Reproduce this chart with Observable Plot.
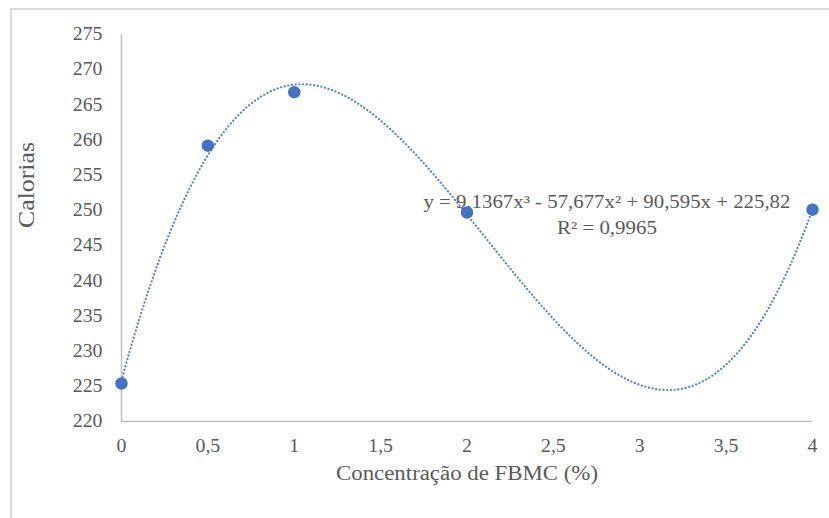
<!DOCTYPE html>
<html>
<head>
<meta charset="utf-8">
<script src="https://cdn.jsdelivr.net/npm/d3@7"></script>
<script src="https://cdn.jsdelivr.net/npm/@observablehq/plot@0.6"></script>
<style>
  html, body { margin: 0; padding: 0; background: #fff; }
  #wrap { position: relative; width: 829px; height: 518px; overflow: hidden; }
  #border { position: absolute; left: 10px; top: 8px; width: 840px; height: 540px;
            border-left: 2px solid #d9d9d9; border-top: 2px solid #d9d9d9; box-sizing: border-box; }
  #chart { position: absolute; left: 0; top: 0; }
  #chart svg, #chart svg text { font-family: "Liberation Serif", "Times New Roman", serif !important; }
</style>
</head>
<body>
<div id="wrap"><div id="border"></div><div id="chart"></div></div>
<script>
// ---- data ----
const concentracao = [0, 0.5, 1, 2, 4];
const calorias = [225.4, 259.2, 266.8, 249.7, 250.1];
// trendline coefficients as printed on the chart (c0 + c1 x + c2 x^2 + c3 x^3)
const trendCoef = [225.82, 90.595, -57.677, 9.1367];
const rSquared = "0,9965";
const xTicks = [0, 0.5, 1, 1.5, 2, 2.5, 3, 3.5, 4];
const yTicks = [220, 225, 230, 235, 240, 245, 250, 255, 260, 265, 270, 275];
const xTitle = "Concentração de FBMC (%)";
const yTitle = "Calorias";
const labelPos = [2.81, 249.7]; // annotation anchor, data units

const comma = d => String(d).replace(".", ",");
const points = concentracao.map((x, i) => ({x, y: calorias[i]}));
const poly = x => trendCoef.reduce((s, c, k) => s + c * x ** k, 0);
const curve = d3.range(0, 4.0001, 0.02).map(x => ({x, y: poly(x)}));
const eqText = `y = ${comma(trendCoef[3])}x³ - ${comma(-trendCoef[2])}x² + ${comma(trendCoef[1])}x + ${comma(trendCoef[0])}`;
const r2Text = `R² = ${rSquared}`;

const blue = "#4472C4";
const axisGray = "#bfbfbf";
const textGray = "#595959";
const serif = "'Liberation Serif', 'Times New Roman', serif";

const svg = Plot.plot({
  width: 829,
  height: 518,
  marginLeft: 121,
  marginRight: 17,
  marginTop: 34,
  marginBottom: 97,
  style: {fontFamily: serif, background: "transparent", color: textGray},
  x: {domain: [0, 4], ticks: xTicks, tickFormat: comma, tickSize: 0, tickPadding: 18, label: null},
  y: {domain: [220, 275], ticks: yTicks, tickSize: 0, tickPadding: 19, label: null},
  marks: [
    Plot.ruleY([220], {stroke: axisGray, strokeWidth: 1.5}),
    Plot.ruleX([0], {stroke: axisGray, strokeWidth: 1.5}),
    Plot.line(curve, {x: "x", y: "y", stroke: blue, strokeWidth: 2.2, strokeDasharray: "0.1 3.6",
      strokeLinecap: "round", strokeOpacity: 0.9, curve: "linear"}),
    Plot.text([eqText + "\n" + r2Text], {x: () => labelPos[0], y: () => labelPos[1],
      lineHeight: 1.45, fontSize: 18, fill: textGray, textAnchor: "middle", lineAnchor: "middle"}),
    Plot.dot(points, {x: "x", y: "y", r: 5.5, fill: blue, stroke: blue}),
    Plot.text([xTitle], {frameAnchor: "bottom", dy: 58, fontSize: 20, fill: textGray}),
    Plot.text([yTitle], {frameAnchor: "left", dx: -95, rotate: -90, fontSize: 24, fill: textGray})
  ]
});
svg.setAttribute("font-family", serif);
svg.querySelectorAll('[aria-label^="x-axis tick label"], [aria-label^="y-axis tick label"]').forEach(g => {
  g.setAttribute("font-size", 18);
  g.setAttribute("fill", textGray);
});
document.getElementById("chart").append(svg);

function stretchTo(el, target) {
  el.setAttribute("textLength", target);
  el.setAttribute("lengthAdjust", "spacingAndGlyphs");
}
svg.querySelectorAll('[aria-label^="x-axis tick label"] text, [aria-label^="y-axis tick label"] text').forEach(t => {
  stretchTo(t, t.getComputedTextLength() * 1.1);
});
svg.querySelectorAll('text').forEach(t => {
  const s = t.textContent;
  if (s === xTitle) stretchTo(t, 262);
  if (s === yTitle) stretchTo(t, 86);
});
svg.querySelectorAll('tspan').forEach(t => {
  if (t.textContent === eqText) stretchTo(t, 367);
  if (t.textContent === r2Text) stretchTo(t, 100);
});
</script>
</body>
</html>
